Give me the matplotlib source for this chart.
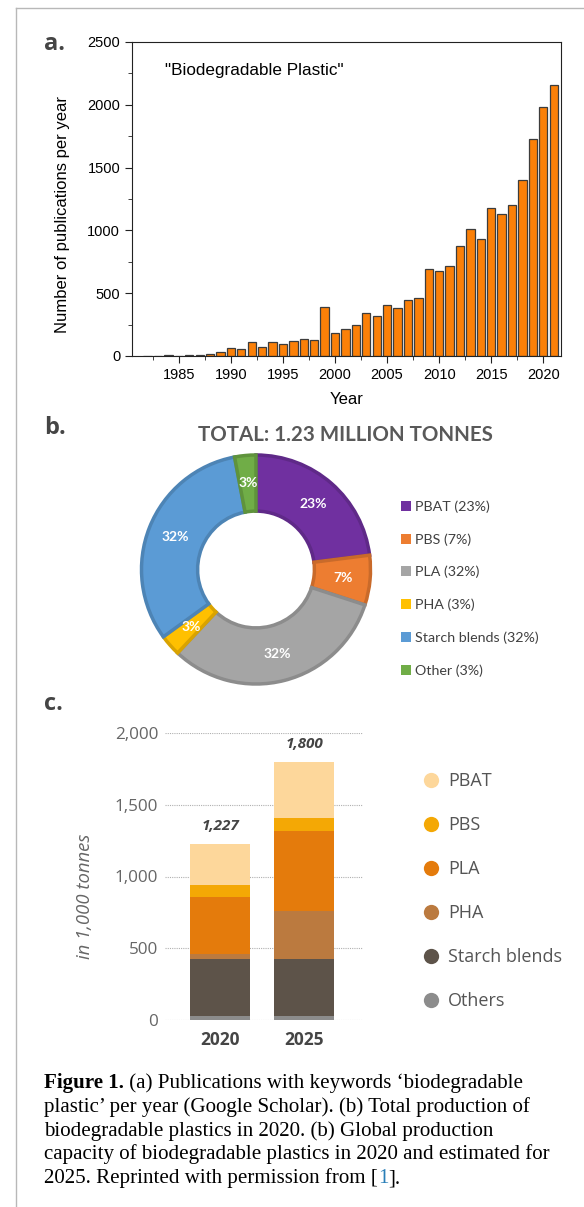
import numpy as np
import matplotlib
matplotlib.use("Agg")
import matplotlib.pyplot as plt
import matplotlib.colors as mcolors
from matplotlib.ticker import MultipleLocator
from matplotlib.patches import Patch
from matplotlib.lines import Line2D

W, H = 584, 1207

# ---- data ----
years = list(range(1982, 2022))
publications = [3, 3, 8, 0, 8, 8, 18, 30, 64, 58, 111, 72, 109, 93, 117, 138, 127, 393,
                186, 212, 247, 343, 321, 409, 385, 446, 459, 695, 679, 719, 878, 1008,
                931, 1178, 1130, 1200, 1399, 1730, 1980, 2158]

pie_names = ["PBAT", "PBS", "PLA", "PHA", "Starch blends", "Other"]
pie_share = [23, 7, 32, 3, 32, 3]
pie_colors = ["#7030a0", "#ed7d31", "#a5a5a5", "#ffc000", "#5b9bd5", "#70ad47"]

cap_years = ["2020", "2025"]
cap_names = ["Others", "Starch blends", "PHA", "PLA", "PBS", "PBAT"]
cap_values = {
    "Others": [25, 25],
    "Starch blends": [400, 400],
    "PHA": [35, 335],
    "PLA": [397, 560],
    "PBS": [83, 86],
    "PBAT": [287, 394],
}
cap_colors = {
    "Others": "#8c8c8c",
    "Starch blends": "#5d5349",
    "PHA": "#bb7a3f",
    "PLA": "#e47b0c",
    "PBS": "#f4a805",
    "PBAT": "#fdd79b",
}
cap_totals = ["1,227", "1,800"]


def rect(left, top, right, bottom):
    return [left / W, 1 - bottom / H, (right - left) / W, (bottom - top) / H]


fig = plt.figure(figsize=(W / 100, H / 100), dpi=100)

# frame lines of the page
fig.add_artist(Line2D([16 / W, 16 / W], [0, 1 - 8 / H], transform=fig.transFigure, color="#b8b8b8", lw=1))
fig.add_artist(Line2D([16 / W, 1], [1 - 8 / H, 1 - 8 / H], transform=fig.transFigure, color="#b8b8b8", lw=1))

label_font = dict(family="Open Sans", weight="bold", size=17, color="#454545")
fig.text(44 / W, 1 - 44 / H, "a.", va="center", **label_font)
fig.text(44 / W, 1 - 428 / H, "b.", va="center", **label_font)
fig.text(44 / W, 1 - 704 / H, "c.", va="center", **label_font)

# ---- a. publications ----
ax = fig.add_axes(rect(132, 42, 561, 356))
ax.bar(years, publications, width=0.8, color="#fb8008", edgecolor="#3c3c3c", linewidth=0.9)
ax.set_xlim(1980.5, 2021.7)
ax.set_ylim(0, 2500)
ax.xaxis.set_major_locator(MultipleLocator(5))
ax.xaxis.set_minor_locator(MultipleLocator(2.5))
ax.yaxis.set_major_locator(MultipleLocator(500))
ax.yaxis.set_minor_locator(MultipleLocator(250))
ax.tick_params(which="both", direction="out", labelsize=10.5, color="#222222")
ax.tick_params(which="major", length=5)
ax.tick_params(which="minor", length=3)
for lab in ax.get_xticklabels() + ax.get_yticklabels():
    lab.set_family("Liberation Sans")
for s in ax.spines.values():
    s.set_color("#222222")
ax.set_xlabel("Year", family="Liberation Sans", size=12, labelpad=7)
ax.set_ylabel("Number of publications per year", family="Liberation Sans", size=12)
ax.yaxis.set_label_coords(-0.145, 0.452)
ax.text(0.077, 0.91, '"Biodegradable Plastic"', transform=ax.transAxes,
        family="Liberation Sans", size=12.3, va="center")

# ---- b. donut ----
fig.text(345 / W, 1 - 435 / H, "TOTAL: 1.23 MILLION TONNES", ha="center", va="center",
         family="Lato", weight="bold", size=14.8, color="#595959")
axp = fig.add_axes(rect(141.5, 455, 370.5, 684))
wedges, _ = axp.pie(pie_share, colors=pie_colors, startangle=90, counterclock=False,
                    radius=1.0, wedgeprops=dict(width=0.49, linewidth=2.5))
for w, c in zip(wedges, pie_colors):
    w.set_edgecolor(np.array(mcolors.to_rgb(c)) * 0.85)
for w, v in zip(wedges, pie_share):
    mid = np.deg2rad((w.theta1 + w.theta2) / 2)
    axp.text(0.76 * np.cos(mid), 0.76 * np.sin(mid), f"{v}%", ha="center", va="center",
             color="white", weight="bold", family="Lato", size=10)
axp.set_xlim(-1, 1)
axp.set_ylim(-1, 1)
axp.set_aspect("equal")
axp.axis("off")
handles = [Patch(facecolor=c, edgecolor="none") for c in pie_colors]
fig.legend(handles, [f"{n} ({v}%)" for n, v in zip(pie_names, pie_share)],
           loc="upper left", bbox_to_anchor=(394 / W, 1 - 493 / H), frameon=False,
           prop=dict(family="Lato", size=10.3), labelcolor="#404040",
           handlelength=0.7, handleheight=0.7, handletextpad=0.3, labelspacing=1.42,
           borderpad=0)

# ---- c. capacity ----
axc = fig.add_axes(rect(165, 733, 363, 1020))
x = np.arange(len(cap_years))
bottom = np.zeros(len(cap_years))
for n in cap_names:
    vals = np.array(cap_values[n])
    axc.bar(x, vals, bottom=bottom, width=0.714, color=cap_colors[n], linewidth=0)
    bottom += vals
for xi, tot, lab in zip(x, bottom, cap_totals):
    axc.annotate(lab, (xi, tot), xytext=(0, 8), textcoords="offset points", ha="center",
                 va="bottom", family="Open Sans", weight="bold", style="italic",
                 size=11, color="#444444")
axc.set_xlim(-0.655, 1.70)
axc.set_ylim(0, 2000)
axc.set_yticks([0, 500, 1000, 1500, 2000])
axc.set_yticklabels(["0", "500", "1,000", "1,500", "2,000"])
axc.set_xticks(x)
axc.set_xticklabels(cap_years)
axc.yaxis.grid(True, linestyle=(0, (1, 1)), color="#b0b0b0", linewidth=0.8)
axc.set_axisbelow(True)
for s in axc.spines.values():
    s.set_visible(False)
axc.tick_params(axis="y", length=0, pad=5, labelsize=12.3, labelcolor="#666666")
axc.tick_params(axis="x", length=0, pad=8, labelsize=12.5, labelcolor="#454545")
for lab in axc.get_yticklabels():
    lab.set_family("Open Sans")
for lab in axc.get_xticklabels():
    lab.set_family("Open Sans")
    lab.set_weight("bold")
axc.set_ylabel("in 1,000 tonnes", family="Open Sans", style="italic", size=13.3, color="#666666")
axc.yaxis.set_label_coords(-0.36, 0.43)

leg_names = cap_names[::-1]
leg_handles = [Line2D([], [], marker="o", linestyle="none", markersize=11,
                      markerfacecolor=cap_colors[n], markeredgecolor="none") for n in leg_names]
fig.legend(leg_handles, leg_names, loc="upper left", bbox_to_anchor=(413 / W, 1 - 763 / H),
           frameon=False, prop=dict(family="Open Sans", size=13), labelcolor="#555555",
           handlelength=1.0, handletextpad=0.45, labelspacing=1.44, borderpad=0)

# ---- caption ----
renderer = fig.canvas.get_renderer()
cap_font = dict(family="Liberation Serif", size=15.1)
lines = [
    [("Figure 1.", "bold", "black"), (" (a) Publications with keywords \u2018biodegradable", "normal", "black")],
    [("plastic\u2019 per year (Google Scholar). (b) Total production of", "normal", "black")],
    [("biodegradable plastics in 2020. (b) Global production", "normal", "black")],
    [("capacity of biodegradable plastics in 2020 and estimated for", "normal", "black")],
    [("2025. Reprinted with permission from [", "normal", "black"), ("1", "normal", "#2a7fb8"),
     ("].", "normal", "black")],
]
base_y = 1088
for i, parts in enumerate(lines):
    xpos = 44
    for txt, wgt, col in parts:
        t = fig.text(xpos / W, 1 - (base_y + i * 23.8) / H, txt, va="baseline", ha="left",
                     weight=wgt, color=col, **cap_font)
        bb = t.get_window_extent(renderer=renderer)
        xpos += bb.width

fig.savefig("out.png", dpi=100)
